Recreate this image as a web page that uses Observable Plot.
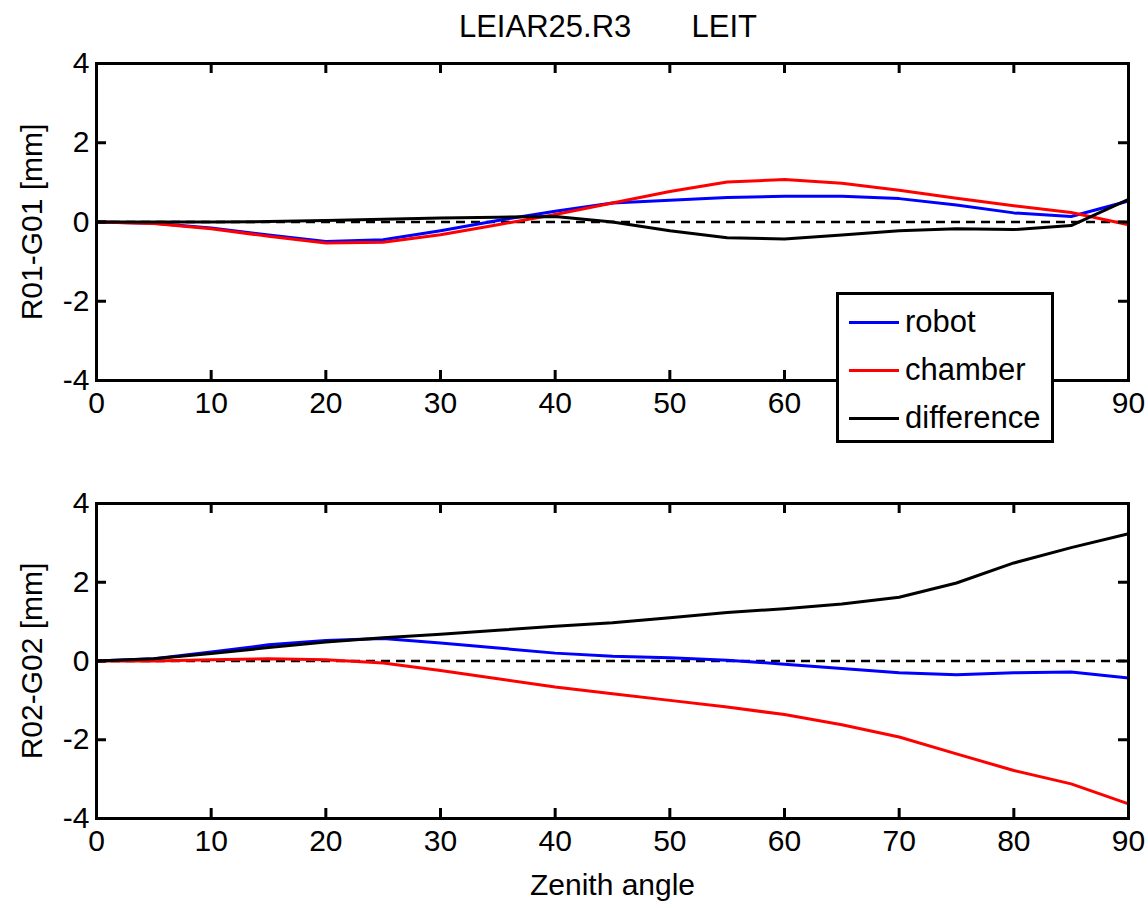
<!DOCTYPE html>
<html>
<head>
<meta charset="utf-8">
<script src="https://cdn.jsdelivr.net/npm/d3@7"></script>
<script src="https://cdn.jsdelivr.net/npm/@observablehq/plot@0.6"></script>
<style>
  html, body { margin: 0; padding: 0; background: #fff; }
  #wrap { position: relative; width: 1146px; height: 912px; font-family: "Liberation Sans", Arial, Helvetica, sans-serif; }
  #title { position: absolute; left: 92px; width: 1032px; top: 11px; text-align: center; font-size: 31px; line-height: 31px; white-space: pre; color: #000; z-index: 6; }
  .panel { position: absolute; left: 0; }
  #legend { position: absolute; left: 836px; top: 292px; width: 212px; height: 145px; border: 3px solid #000; background: #fff; z-index: 5; }
  .entry { position: absolute; left: 10px; height: 34px; display: flex; align-items: center; font-size: 31px; }
  .swatch { width: 50px; height: 0; border-top: 3px solid; margin-right: 6px; }
</style>
</head>
<body>
<div id="wrap">
  <div id="p1" class="panel" style="top:0px"></div>
  <div id="p2" class="panel" style="top:440px"></div>
  <div id="title"></div>
  <div id="legend"></div>
</div>
<script>
// ---- data ----
const titleText = "LEIAR25.R3       LEIT";
const zenith = [0, 5, 10, 15, 20, 25, 30, 35, 40, 45, 50, 55, 60, 65, 70, 75, 80, 85, 90];

const robot1 = [0, -0.03, -0.15, -0.33, -0.49, -0.45, -0.22, 0.04, 0.27, 0.48, 0.55, 0.62, 0.65, 0.65, 0.59, 0.43, 0.23, 0.14, 0.53];
const chamber1 = [0, -0.04, -0.17, -0.36, -0.53, -0.51, -0.32, -0.07, 0.19, 0.48, 0.77, 1.01, 1.07, 0.98, 0.80, 0.60, 0.41, 0.24, -0.07];
const difference1 = [0, 0, 0, 0.01, 0.04, 0.07, 0.10, 0.12, 0.14, 0.0, -0.22, -0.40, -0.43, -0.33, -0.22, -0.17, -0.19, -0.09, 0.57];

const robot2 = [0, 0.06, 0.23, 0.41, 0.52, 0.57, 0.46, 0.33, 0.20, 0.12, 0.08, 0.02, -0.08, -0.19, -0.30, -0.35, -0.30, -0.28, -0.43];
const chamber2 = [0, 0, 0.03, 0.06, 0.03, -0.05, -0.24, -0.45, -0.66, -0.83, -1.00, -1.17, -1.36, -1.62, -1.93, -2.36, -2.78, -3.12, -3.63];
const difference2 = [0, 0.06, 0.19, 0.34, 0.48, 0.59, 0.68, 0.78, 0.88, 0.97, 1.10, 1.23, 1.33, 1.45, 1.62, 1.98, 2.49, 2.88, 3.23];

const seriesNames = ["robot", "chamber", "difference"];
const seriesColors = ["#0000ff", "#ff0000", "#000000"];
const xTicks = [0, 10, 20, 30, 40, 50, 60, 70, 80, 90];
// x tick labels 70 and 80 of the upper panel are hidden behind the legend in the reference
const xTickLabelsTop = [0, 10, 20, 30, 40, 50, 60, 90];
const yTicks = [-4, -2, 0, 2, 4];
const yLabels = ["R01-G01 [mm]", "R02-G02 [mm]"];
const xLabel = "Zenith angle";

// ---- build ----
document.getElementById("title").textContent = titleText;

function rows(values, name) {
  return zenith.map((z, i) => ({z, v: values[i], s: name}));
}

const W = 1146, ML = 96, MR = 18;
const innerW = W - ML - MR;
const FONT = "'Liberation Sans', Arial, Helvetica, sans-serif";

function panel(series, yLabel, opts) {
  const {height, marginTop, marginBottom, showXLabel, xLabelTicks} = opts;
  const innerH = height - marginTop - marginBottom;
  const data = series.flatMap(([vals, name]) => rows(vals, name));
  const marks = [
    Plot.ruleY([0], {stroke: "#000", strokeWidth: 2.5, strokeDasharray: "9,6"}),
    ...seriesNames.map((n, i) => Plot.line(data.filter(d => d.s === n), {x: "z", y: "v", stroke: seriesColors[i], strokeWidth: 3, strokeLinejoin: "round"})),
    Plot.frame({stroke: "#000", strokeWidth: 3}),
    Plot.tickX(xTicks, {x: d => d, insetTop: innerH - 10, stroke: "#000", strokeWidth: 3}),
    Plot.tickX(xTicks, {x: d => d, insetBottom: innerH - 10, stroke: "#000", strokeWidth: 3}),
    Plot.tickY(yTicks, {y: d => d, insetRight: innerW - 10, stroke: "#000", strokeWidth: 3}),
    Plot.tickY(yTicks, {y: d => d, insetLeft: innerW - 10, stroke: "#000", strokeWidth: 3}),
    Plot.axisX({ticks: xLabelTicks, tickSize: 0, tickPadding: 11, tickFormat: d => String(d), label: null, fontSize: 30}),
    Plot.axisY({ticks: yTicks, tickSize: 0, tickPadding: 7, tickFormat: d => String(d), label: null, fontSize: 30}),
    Plot.text([yLabel], {text: d => d, frameAnchor: "left", textAnchor: "middle", dx: -64, rotate: -90, fontSize: 30, fill: "#000"})
  ];
  if (showXLabel) {
    marks.push(Plot.text([xLabel], {text: d => d, frameAnchor: "bottom", textAnchor: "middle", dy: 76, fontSize: 30, fill: "#000"}));
  }
  return Plot.plot({
    width: W,
    height,
    marginLeft: ML,
    marginRight: MR,
    marginTop,
    marginBottom,
    x: {domain: [0, 90]},
    y: {domain: [-4, 4]},
    style: {fontSize: "30px", fontFamily: FONT, color: "#000", background: "#fff", overflow: "visible"},
    marks
  });
}

document.getElementById("p1").appendChild(panel([[robot1, "robot"], [chamber1, "chamber"], [difference1, "difference"]], yLabels[0], {height: 440, marginTop: 63, marginBottom: 60, showXLabel: false, xLabelTicks: xTickLabelsTop}));
document.getElementById("p2").appendChild(panel([[robot2, "robot"], [chamber2, "chamber"], [difference2, "difference"]], yLabels[1], {height: 472, marginTop: 63, marginBottom: 94, showXLabel: true, xLabelTicks: xTicks}));

// legend
const legend = document.getElementById("legend");
seriesNames.forEach((n, i) => {
  const e = document.createElement("div");
  e.className = "entry";
  e.style.top = (10 + i * 48) + "px";
  const sw = document.createElement("div");
  sw.className = "swatch";
  sw.style.borderTopColor = seriesColors[i];
  const t = document.createElement("span");
  t.textContent = n;
  e.appendChild(sw);
  e.appendChild(t);
  legend.appendChild(e);
});
</script>
</body>
</html>
